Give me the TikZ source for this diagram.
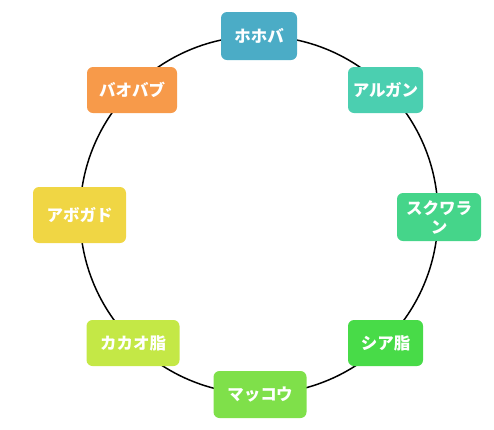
\documentclass[tikz,border=0pt]{standalone}
\usepackage{fontspec}
\newfontfamily\jpfont{Noto Sans CJK JP}
\definecolor{cA}{RGB}{75,172,198}
\definecolor{cB}{RGB}{75,207,176}
\definecolor{cC}{RGB}{69,213,138}
\definecolor{cD}{RGB}{72,219,72}
\definecolor{cE}{RGB}{127,224,74}
\definecolor{cF}{RGB}{196,232,70}
\definecolor{cG}{RGB}{240,214,68}
\definecolor{cH}{RGB}{247,154,74}
\tikzset{
  item/.style={rounded corners=6pt, text=white, font=\jpfont\bfseries\fontsize{16.5}{19}\selectfont, align=center, inner sep=0pt},
  ring/.style={draw=black, line width=1.5pt}
}
\begin{document}
\begin{tikzpicture}[x=1pt,y=-1pt]
\useasboundingbox (0,0) rectangle (494,429);
\draw[ring] (259,215) circle (179);
\node[item, fill=cA, minimum width=76pt, minimum height=48pt] (n1) at (259,36) {ホホバ};
\node[item, fill=cB, minimum width=75pt, minimum height=46pt] (n2) at (385.5,90) {アルガン};
\node[item, fill=cC, minimum width=84pt, minimum height=48pt] (n3) at (439,217) {スクワラ\\ン};
\node[item, fill=cD, minimum width=75pt, minimum height=46pt] (n4) at (385.5,343) {シア脂};
\node[item, fill=cE, minimum width=93pt, minimum height=47pt] (n5) at (260,394.5) {マッコウ};
\node[item, fill=cF, minimum width=93pt, minimum height=46pt] (n6) at (133,343) {カカオ脂};
\node[item, fill=cG, minimum width=93pt, minimum height=56pt] (n7) at (79.5,215) {アボガド};
\node[item, fill=cH, minimum width=90pt, minimum height=46pt] (n8) at (132,90) {バオバブ};
\end{tikzpicture}
\end{document}
